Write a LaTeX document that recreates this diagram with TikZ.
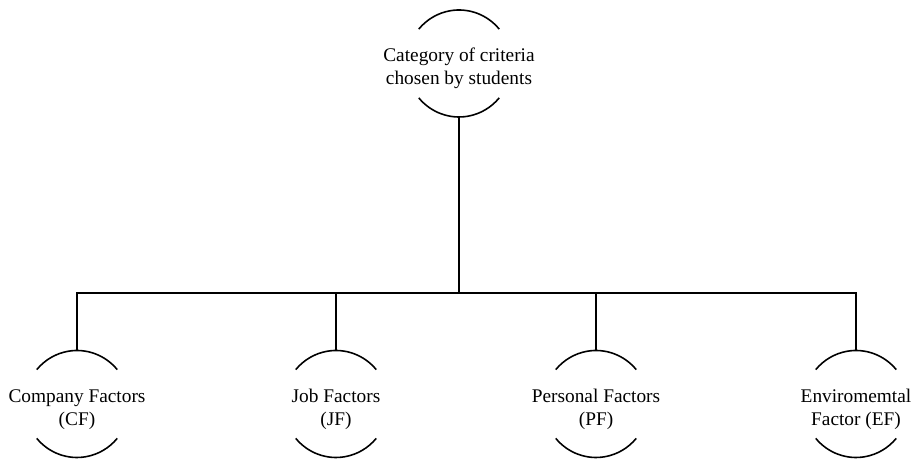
\documentclass[tikz,border=0pt]{standalone}
\usepackage{fontspec}
\setmainfont{Liberation Serif}

\begin{document}
\begin{tikzpicture}

\tikzset{%
    crit/.style={align=center,inner sep=0pt,minimum height=2.14cm,text height=27pt,text depth=3pt,font=\fontsize{11}{13}\selectfont},
    capline/.style={line width=0.9pt},
    tree/.style={line width=1.1pt},
}

\def\rx{1.05cm}
\def\ry{1.07cm}
\def\capang{40}

%\critnode{name}{pos}{text}
\newcommand*{\critnode}[3]{%
	\node [crit] (#1) at (#2) {#3};
	\draw [capline] (#1.center) ++(\capang:{\rx} and {\ry}) arc [x radius=\rx, y radius=\ry, start angle=\capang, end angle=180-\capang];
	\draw [capline] (#1.center) ++(180+\capang:{\rx} and {\ry}) arc [x radius=\rx, y radius=\ry, start angle=180+\capang, end angle=360-\capang];
}

\def\topx{9.18}
\def\topy{8.01}
\def\boty{1.2}
\def\forky{3.42}

% background
\useasboundingbox (0,0) rectangle (18.3,9.28);

% criteria
\critnode{cat}{\topx,\topy}{Category of criteria\\chosen by students}
\critnode{cf}{1.54,\boty}{Company Factors\\(CF)}
\critnode{jf}{6.72,\boty}{Job Factors\\(JF)}
\critnode{pf}{11.92,\boty}{Personal Factors\\(PF)}
\critnode{ef}{17.12,\boty}{Enviromemtal\\Factor (EF)}

% tree
\coordinate (fork) at (\topx,\forky);
\draw [tree] (cat.south) -- (fork);
\foreach \n in {cf,jf,pf,ef}
	\draw [tree] (fork) -| (\n.north);

\end{tikzpicture}
\end{document}
